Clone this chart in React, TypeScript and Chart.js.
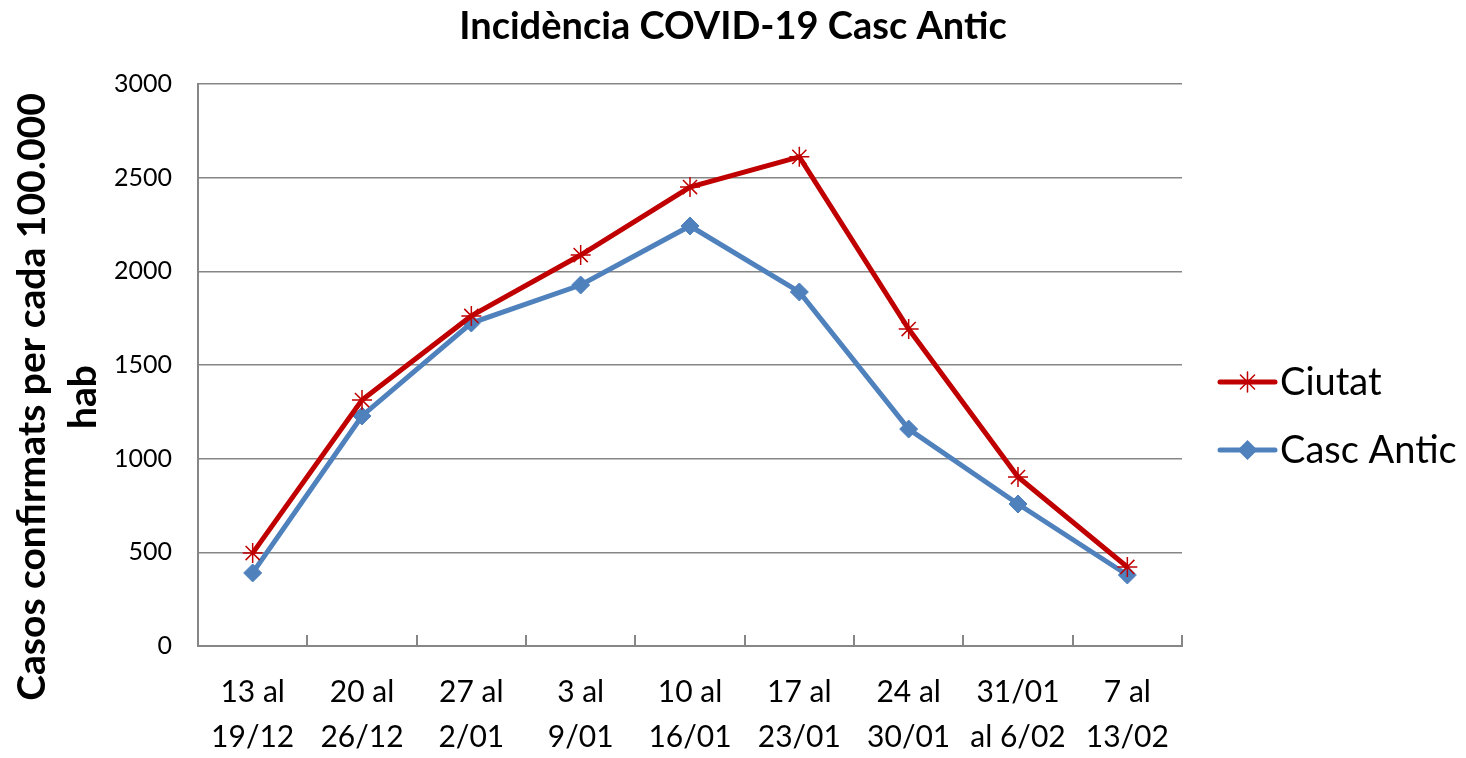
import React, { useEffect, useRef } from "react";
import { Chart, registerables } from "chart.js";

Chart.register(...registerables);

const categories: string[][] = [
  ["13 al", "19/12"],
  ["20 al", "26/12"],
  ["27 al", "2/01"],
  ["3 al", "9/01"],
  ["10 al", "16/01"],
  ["17 al", "23/01"],
  ["24 al", "30/01"],
  ["31/01", "al 6/02"],
  ["7 al", "13/02"],
];

const ciutat: number[] = [496, 1313, 1762, 2087, 2450, 2611, 1692, 902, 422];
const cascAntic: number[] = [390, 1228, 1724, 1927, 2242, 1890, 1158, 758, 379];

const yTicks: number[] = [0, 500, 1000, 1500, 2000, 2500, 3000];

const titleText = "Incidència COVID-19 Casc Antic";
const yTitleLines: string[] = ["Casos confirmats per cada 100.000", "hab"];

const RED = "#C00000";
const BLUE = "#4F81BD";
const GRID = "#868686";
const FONT = "Lato, 'Open Sans', sans-serif";

const innerTicks = {
  id: "innerTicks",
  afterDatasetsDraw(chart: any) {
    const x = chart.scales.x;
    const y = chart.scales.y;
    const ctx = chart.ctx;
    ctx.save();
    ctx.strokeStyle = GRID;
    ctx.lineWidth = 2;
    const n = categories.length;
    for (let i = 1; i <= n; i++) {
      const px = Math.round(x.getPixelForValue(i - 0.5));
      ctx.beginPath();
      ctx.moveTo(px, y.bottom + 1);
      ctx.lineTo(px, y.bottom - 11);
      ctx.stroke();
    }
    ctx.restore();
  },
};

function drawMarker(ctx: CanvasRenderingContext2D, style: string, cx: number, cy: number, r: number, color: string) {
  ctx.save();
  ctx.strokeStyle = color;
  ctx.fillStyle = color;
  if (style === "star") {
    ctx.lineWidth = 1.5;
    ctx.beginPath();
    for (let k = 0; k < 4; k++) {
      const a = (Math.PI / 4) * k;
      ctx.moveTo(cx + Math.cos(a) * r, cy + Math.sin(a) * r);
      ctx.lineTo(cx - Math.cos(a) * r, cy - Math.sin(a) * r);
    }
    ctx.stroke();
  } else {
    ctx.beginPath();
    ctx.moveTo(cx, cy - r);
    ctx.lineTo(cx + r, cy);
    ctx.lineTo(cx, cy + r);
    ctx.lineTo(cx - r, cy);
    ctx.closePath();
    ctx.fill();
  }
  ctx.restore();
}

// custom legend (line + marker + label) placed right of the plot area
const customLegend = {
  id: "customLegend",
  afterDraw(chart: any) {
    const ctx = chart.ctx;
    const area = chart.chartArea;
    const mid = (area.top + area.bottom) / 2;
    const x0 = area.right + 38;
    const lineLen = 55;
    ctx.save();
    ctx.font = `38px ${FONT}`;
    ctx.textBaseline = "middle";
    ctx.textAlign = "left";
    chart.data.datasets.forEach((ds: any, i: number) => {
      const cy = mid + 17 + i * 68;
      ctx.strokeStyle = ds.borderColor;
      ctx.lineWidth = 5;
      ctx.lineCap = "round";
      ctx.beginPath();
      ctx.moveTo(x0, cy);
      ctx.lineTo(x0 + lineLen, cy);
      ctx.stroke();
      drawMarker(ctx, ds.pointStyle, x0 + lineLen / 2, cy, 10, ds.borderColor);
      ctx.fillStyle = "#000";
      ctx.fillText(ds.label, x0 + lineLen + 5, cy + 1);
    });
    ctx.restore();
  },
};

// y-axis title drawn rotated, slightly below the axis centre as in the original
const yAxisTitle = {
  id: "yAxisTitle",
  afterDraw(chart: any) {
    const ctx = chart.ctx;
    const area = chart.chartArea;
    const cy = (area.top + area.bottom) / 2 + 32;
    ctx.save();
    ctx.font = `bold 39px ${FONT}`;
    ctx.fillStyle = "#000";
    ctx.textAlign = "center";
    ctx.textBaseline = "middle";
    yTitleLines.forEach((line, i) => {
      ctx.save();
      ctx.translate(24 + i * 51, cy);
      ctx.rotate(-Math.PI / 2);
      ctx.fillText(line, 0, 0);
      ctx.restore();
    });
    ctx.restore();
  },
};

export default function App() {
  const ref = useRef<HTMLCanvasElement | null>(null);
  useEffect(() => {
    if (!ref.current) return;
    const chart = new Chart(ref.current, {
      type: "line",
      data: {
        labels: categories,
        datasets: [
          {
            label: "Ciutat",
            data: ciutat,
            borderColor: RED,
            backgroundColor: RED,
            borderWidth: 5,
            pointStyle: "star",
            pointRadius: 10,
            pointBorderWidth: 1.5,
            pointBorderColor: RED,
            pointBackgroundColor: RED,
            tension: 0,
          },
          {
            label: "Casc Antic",
            data: cascAntic,
            borderColor: BLUE,
            backgroundColor: BLUE,
            borderWidth: 5,
            pointStyle: "rectRot",
            pointRadius: 9,
            pointBorderWidth: 1,
            pointBorderColor: BLUE,
            pointBackgroundColor: BLUE,
            tension: 0,
          },
        ],
      },
      options: {
        animation: false,
        responsive: true,
        maintainAspectRatio: false,
        layout: { padding: { top: 0, right: 0, bottom: 0, left: 0 } },
        plugins: {
          tooltip: { enabled: false },
          legend: { display: false },
          title: {
            display: true,
            text: titleText,
            color: "#000",
            font: { family: FONT, size: 38, weight: "bold", lineHeight: 1.0 },
            padding: { top: 0, bottom: 38 },
          },
        },
        scales: {
          x: {
            type: "category",
            offset: true,
            grid: { display: true, drawOnChartArea: false, drawTicks: false, offset: true },
            border: { display: true, color: GRID, width: 2 },
            ticks: {
              color: "#000",
              font: { family: FONT, size: 30, lineHeight: 1.5 },
              padding: 24,
              maxRotation: 0,
              autoSkip: false,
            },
            afterFit: (axis: any) => {
              axis.height = 104;
            },
          },
          y: {
            min: 0,
            max: 3000,
            afterBuildTicks: (axis: any) => {
              axis.ticks = yTicks.map((v) => ({ value: v }));
            },
            grid: { color: GRID, lineWidth: 1.5, drawTicks: false },
            border: { display: true, color: GRID, width: 2 },
            ticks: {
              color: "#000",
              font: { family: FONT, size: 25 },
              padding: 26,
              callback: (v: any) => String(v),
            },
            afterFit: (axis: any) => {
              axis.width = 190;
            },
          },
          legendSpace: {
            type: "linear",
            position: "right",
            display: true,
            grid: { display: false, drawTicks: false },
            border: { display: false },
            ticks: { display: false },
            afterFit: (axis: any) => {
              axis.width = 276;
            },
          },
        },
      },
      plugins: [innerTicks, customLegend, yAxisTitle],
    });
    return () => chart.destroy();
  }, []);
  return (
    <div style={{ width: 1450, height: 742, position: "relative" }}>
      <canvas ref={ref} style={{ display: "block" }} />
    </div>
  );
}
